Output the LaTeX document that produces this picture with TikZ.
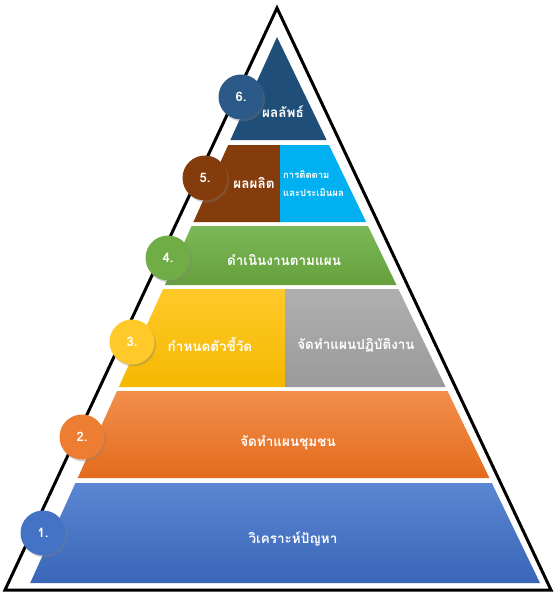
\documentclass[tikz,border=0pt]{standalone}
\usepackage{fontspec}
\newfontfamily\thai[Script=Thai]{Loma}
\usetikzlibrary{shadows}
\definecolor{c1}{HTML}{4472C4}\definecolor{c1t}{HTML}{5A86D2}\definecolor{c1b}{HTML}{3A66B8}
\definecolor{c2}{HTML}{ED7D31}\definecolor{c2t}{HTML}{F28E4C}\definecolor{c2b}{HTML}{E36C1C}
\definecolor{c3}{HTML}{FFC000}\definecolor{c3t}{HTML}{FFC92A}\definecolor{c3b}{HTML}{F5B800}
\definecolor{c3g}{HTML}{A5A5A5}\definecolor{c3gt}{HTML}{AFAFAF}\definecolor{c3gb}{HTML}{9A9A9A}
\definecolor{c4}{HTML}{70AD47}\definecolor{c4t}{HTML}{7CB857}\definecolor{c4b}{HTML}{65A03C}
\definecolor{c5}{HTML}{843C0C}\definecolor{c5l}{HTML}{00B0F0}
\definecolor{c6}{HTML}{1F4E79}\definecolor{c6c}{HTML}{2B5A88}
\tikzset{
  numc/.style={circle, minimum size=45pt, inner sep=0pt, text=white, font=\thai\bfseries\fontsize{13}{14}\selectfont,
    drop shadow={shadow xshift=1.5pt, shadow yshift=-2pt, opacity=0.35}},
  lbl/.style={text=white, font=\thai\bfseries\fontsize{13.5}{15}\selectfont, inner sep=0pt, align=center},
  smalllbl/.style={text=white, font=\thai\bfseries\fontsize{9.5}{18}\selectfont, inner sep=0pt, align=left},
}
\begin{document}
\begin{tikzpicture}[x=1pt,y=-1pt]
\useasboundingbox (0,0) rectangle (556,594);
\fill[white] (0,0) rectangle (556,594);
% outer triangle
\draw[line width=3pt, line join=miter] (277,8) -- (551,590) -- (5,590) -- cycle;
% layer 1
\shade[top color=c1t, bottom color=c1b] (75.4,483) -- (491.8,483) -- (540,583) -- (30.2,583) -- cycle;
% layer 2
\shade[top color=c2t, bottom color=c2b] (117,391) -- (447.5,391) -- (489.4,478) -- (77.7,478) -- cycle;
% layer 3
\shade[top color=c3t, bottom color=c3b] (163.1,289) -- (285,289) -- (285,387) -- (118.8,387) -- cycle;
\shade[top color=c3gt, bottom color=c3gb] (285,289) -- (398.4,289) -- (445.6,387) -- (285,387) -- cycle;
% layer 4
\shade[top color=c4t, bottom color=c4b] (191.6,226) -- (368,226) -- (396.5,285) -- (164.9,285) -- cycle;
% layer 5
\fill[c5] (228.2,145) -- (280,145) -- (280,222) -- (193.4,222) -- cycle;
\fill[c5l] (280,145) -- (329,145) -- (366.1,222) -- (280,222) -- cycle;
% layer 6
\fill[c6] (277,37) -- (326.6,140) -- (230.4,140) -- cycle;
% labels
\node[lbl] (t6) at (283,112) {ผลลัพธ์};
\node[lbl] (t5a) at (254,183) {ผลผลิต};
\node[smalllbl, anchor=west] (t5b) at (283,184) {การติดตาม\\และประเมินผล};
\node[lbl] (t4) at (284,260) {ดำเนินงานตามแผน};
\node[lbl] (t3a) at (210,344) {กำหนดตัวชี้วัด};
\node[lbl] (t3b) at (356,345) {จัดทำแผนปฏิบัติงาน};
\node[lbl] (t2) at (288,443) {จัดทำแผนชุมชน};
\node[lbl] (t1) at (293,539) {วิเคราะห์ปัญหา};
% number circles
\node[numc, fill=c6c] (n6) at (241,97) {6.};
\node[numc, fill=c5] (n5) at (205,178) {5.};
\node[numc, fill=c4] (n4) at (168,258) {4.};
\node[numc, fill=c3t] (n3) at (132,342) {3.};
\node[numc, fill=c2] (n2) at (82,437) {2.};
\node[numc, fill=c1] (n1) at (43,533) {1.};
\end{tikzpicture}
\end{document}
